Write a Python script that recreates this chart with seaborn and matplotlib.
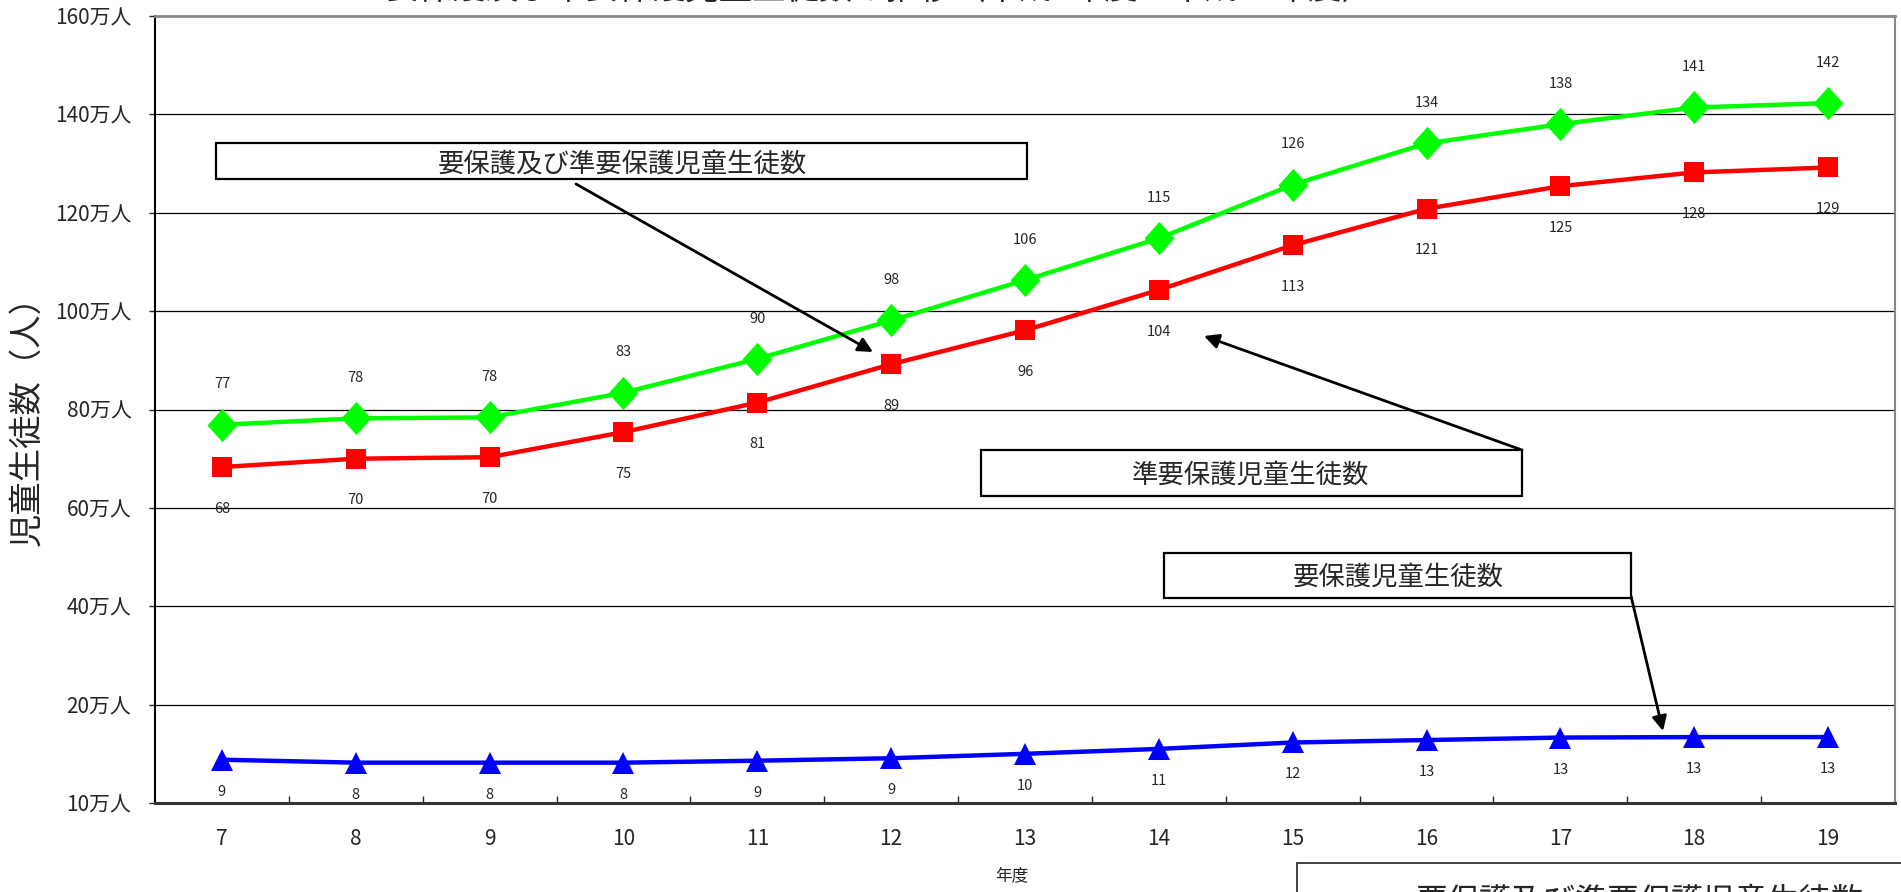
import matplotlib
matplotlib.use("Agg")
import matplotlib.pyplot as plt
import matplotlib.patches as mpatches
import seaborn as sns

# fiscal years (Heisei)
years = [7, 8, 9, 10, 11, 12, 13, 14, 15, 16, 17, 18, 19]

# unit: 10,000 students
both_counts = [76.9, 78.2, 78.4, 83.4, 90.3, 98.1, 106.3, 114.8, 125.7, 134.1, 138.0, 141.4, 142.3]
semi_counts = [68.3, 70.0, 70.3, 75.4, 81.4, 89.2, 96.1, 104.3, 113.4, 120.8, 125.4, 128.2, 129.2]
aid_counts = [8.8, 8.2, 8.2, 8.2, 8.6, 9.1, 10.0, 11.0, 12.3, 12.8, 13.3, 13.4, 13.4]

y_ticks = [0, 20, 40, 60, 80, 100, 120, 140, 160]
y_tick_labels = ["10万人", "20万人", "40万人", "60万人", "80万人",
                 "100万人", "120万人", "140万人", "160万人"]

W, H = 1901, 892

sns.set_style("white")
plt.rcParams["font.family"] = ["Noto Sans CJK JP", "DejaVu Sans"]


def frac(x, y):
    # pixel position (from top-left) -> figure fraction
    return x / W, 1 - y / H


fig = plt.figure(figsize=(W / 100, H / 100), dpi=100)
ax = fig.add_axes([155 / W, (H - 803) / H, 1740 / W, 787 / H])

diamond = [(0, 0.5), (0.45, 0), (0, -0.5), (-0.45, 0)]

sns.lineplot(x=years, y=both_counts, ax=ax, color="#00FF00", linewidth=3.2,
             marker=diamond, markersize=24, markeredgewidth=0)
sns.lineplot(x=years, y=semi_counts, ax=ax, color="#FF0000", linewidth=3.2,
             marker="s", markersize=14.5, markeredgewidth=0)
sns.lineplot(x=years, y=aid_counts, ax=ax, color="#0000FF", linewidth=3.2,
             marker="^", markersize=16, markeredgewidth=0)

# value labels
for x, v in zip(years, both_counts):
    ax.annotate(f"{v:.0f}", (x, v), xytext=(0, 29), textcoords="offset points",
                ha="center", va="center", fontsize=10.5)
for x, v in zip(years, semi_counts):
    ax.annotate(f"{v:.0f}", (x, v), xytext=(0, -30), textcoords="offset points",
                ha="center", va="center", fontsize=10.5)
for x, v in zip(years, aid_counts):
    ax.annotate(f"{v:.0f}", (x, v), xytext=(0, -23), textcoords="offset points",
                ha="center", va="center", fontsize=10.5)

ax.set_xlim(6.5, 19.5)
ax.set_ylim(0, 160)
ax.set_yticks(y_ticks)
ax.set_yticklabels(y_tick_labels, fontsize=15)
ax.set_xticks(years)
ax.set_xticklabels([str(y) for y in years], fontsize=15)
ax.set_xticks([y + 0.5 for y in years[:-1]], minor=True)
ax.tick_params(axis="y", direction="out", length=4, width=1, pad=13, left=True)
ax.tick_params(axis="x", which="major", length=0, pad=18)
ax.tick_params(axis="x", which="minor", direction="in", length=5, width=1, bottom=True)

ax.grid(False)
for g in y_ticks[1:-1]:
    ax.axhline(g, color="black", linewidth=0.9, zorder=0.5)

ax.spines["left"].set_color("black")
ax.spines["left"].set_linewidth(1.5)
ax.spines["bottom"].set_color("#333333")
ax.spines["bottom"].set_linewidth(2.2)
ax.spines["top"].set_color("#888888")
ax.spines["top"].set_linewidth(2)
ax.spines["right"].set_color("#888888")
ax.spines["right"].set_linewidth(1.5)

ax.set_xlabel("")
ax.set_ylabel("")

# axis titles
fig.text(*frac(27, 412), "児童生徒数（人）", rotation=90, ha="center", va="center", fontsize=24)
fig.text(*frac(1012, 876), "年度", ha="center", va="center", fontsize=12)

# title (mostly cut off at the top edge)
fig.text(*frac(880, -1.5), "要保護及び準要保護児童生徒数の推移（平成7年度～平成19年度）",
         ha="center", va="baseline", fontsize=24)

# callout boxes
boxes = [
    ((216, 143, 1027, 179), "要保護及び準要保護児童生徒数", (622, 164), 19),
    ((981, 450, 1522, 496), "準要保護児童生徒数", (1251, 475), 19),
    ((1164, 553, 1631, 598), "要保護児童生徒数", (1398, 577), 19),
]
for (x0, y0, x1, y1), label, (tx, ty), fs in boxes:
    fx0, fy1 = frac(x0, y1)
    rect = mpatches.Rectangle((fx0, fy1), (x1 - x0) / W, (y1 - y0) / H,
                              transform=fig.transFigure, fill=True, facecolor="white",
                              edgecolor="black", linewidth=1.6, zorder=5)
    fig.add_artist(rect)
    fig.text(*frac(tx, ty), label, ha="center", va="center", fontsize=fs, zorder=6)

# bottom-right legend box, cut by the figure edge
bx, by = frac(1297, 863)
fig.add_artist(mpatches.Rectangle((bx, -0.1), 0.4, by + 0.1, transform=fig.transFigure,
                                  fill=False, edgecolor="#333333", linewidth=1.3))
fig.text(*frac(1640, 886), "要保護及び準要保護児童生徒数", ha="center", va="top", fontsize=23)

# arrows
arrows = [((576, 184), (873, 352)), ((1522, 450), (1204, 336)), ((1631, 596), (1663, 731))]
for (sx, sy), (ex, ey) in arrows:
    ax.annotate("", xy=(ex, H - ey), xycoords="figure pixels",
                xytext=(sx, H - sy), textcoords="figure pixels",
                arrowprops=dict(arrowstyle="-|>", color="black", lw=2,
                                mutation_scale=22, shrinkA=0, shrinkB=0),
                zorder=7)

fig.savefig("out.png", dpi=100)
